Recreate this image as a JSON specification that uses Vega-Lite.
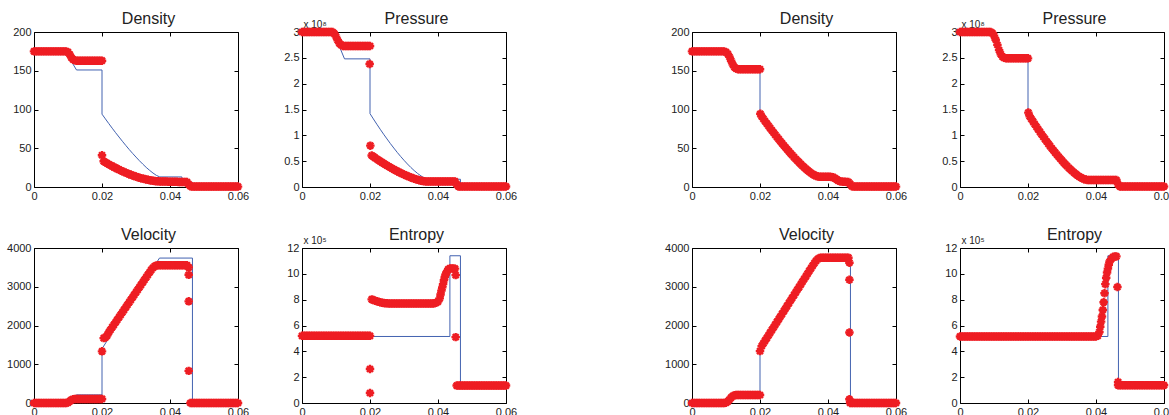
{
"$schema": "https://vega.github.io/schema/vega-lite/v6.json",
"background": "white",
"padding": {"left": 6, "top": 10, "right": 0, "bottom": 0},
"datasets": {
"exD": [{"x":0,"y":175},{"x":0.0095,"y":175},{"x":0.011,"y":162},{"x":0.0125,"y":151},{"x":0.02,"y":151},{"x":0.02,"y":94},{"x":0.021,"y":87.9},{"x":0.022,"y":81.8},{"x":0.023,"y":75.9},{"x":0.024,"y":70.1},{"x":0.025,"y":64.5},{"x":0.026,"y":59},{"x":0.027,"y":53.6},{"x":0.028,"y":48.4},{"x":0.029,"y":43.4},{"x":0.03,"y":38.6},{"x":0.031,"y":33.9},{"x":0.032,"y":29.5},{"x":0.033,"y":25.3},{"x":0.034,"y":21.5},{"x":0.035,"y":18},{"x":0.036,"y":15},{"x":0.037,"y":13},{"x":0.0435,"y":13},{"x":0.0435,"y":6},{"x":0.0466,"y":6},{"x":0.0466,"y":0.5},{"x":0.06,"y":0.5}],
"exP": [{"x":0,"y":3},{"x":0.0095,"y":3},{"x":0.011,"y":2.72},{"x":0.0125,"y":2.48},{"x":0.02,"y":2.48},{"x":0.02,"y":1.42},{"x":0.021,"y":1.317},{"x":0.022,"y":1.216},{"x":0.023,"y":1.118},{"x":0.024,"y":1.022},{"x":0.025,"y":0.93},{"x":0.026,"y":0.84},{"x":0.027,"y":0.754},{"x":0.028,"y":0.671},{"x":0.029,"y":0.592},{"x":0.03,"y":0.517},{"x":0.031,"y":0.446},{"x":0.032,"y":0.379},{"x":0.033,"y":0.318},{"x":0.034,"y":0.262},{"x":0.035,"y":0.214},{"x":0.036,"y":0.174},{"x":0.037,"y":0.15},{"x":0.0466,"y":0.15},{"x":0.0466,"y":0.01},{"x":0.06,"y":0.01}],
"exV": [{"x":0,"y":0},{"x":0.0095,"y":0},{"x":0.011,"y":110},{"x":0.0125,"y":210},{"x":0.02,"y":210},{"x":0.02,"y":1400},{"x":0.0369,"y":3740},{"x":0.0466,"y":3740},{"x":0.0466,"y":0},{"x":0.06,"y":0}],
"exS": [{"x":0,"y":5.15},{"x":0.0435,"y":5.15},{"x":0.0435,"y":11.4},{"x":0.0466,"y":11.4},{"x":0.0466,"y":1.4},{"x":0.06,"y":1.4}],
"aD": [{"x":0,"y":175},{"x":0.0005,"y":175},{"x":0.001,"y":175},{"x":0.0015,"y":175},{"x":0.002,"y":175},{"x":0.0025,"y":175},{"x":0.003,"y":175},{"x":0.0035,"y":175},{"x":0.004,"y":175},{"x":0.0045,"y":175},{"x":0.005,"y":175},{"x":0.0055,"y":175},{"x":0.006,"y":175},{"x":0.0065,"y":175},{"x":0.007,"y":175},{"x":0.0075,"y":175},{"x":0.008,"y":175},{"x":0.0085,"y":175},{"x":0.009,"y":175},{"x":0.0095,"y":175},{"x":0.01,"y":174},{"x":0.0105,"y":171},{"x":0.011,"y":167},{"x":0.0115,"y":164.5},{"x":0.012,"y":163.5},{"x":0.0125,"y":163},{"x":0.013,"y":163},{"x":0.0135,"y":163},{"x":0.014,"y":163},{"x":0.0145,"y":163},{"x":0.015,"y":163},{"x":0.0155,"y":163},{"x":0.016,"y":163},{"x":0.0165,"y":163},{"x":0.017,"y":163},{"x":0.0175,"y":163},{"x":0.018,"y":163},{"x":0.0185,"y":163},{"x":0.019,"y":163},{"x":0.0195,"y":163},{"x":0.02,"y":163},{"x":0.02,"y":41},{"x":0.0205,"y":33.2},{"x":0.021,"y":31.9},{"x":0.0215,"y":30.6},{"x":0.022,"y":29.3},{"x":0.0225,"y":28.1},{"x":0.023,"y":26.9},{"x":0.0235,"y":25.7},{"x":0.024,"y":24.6},{"x":0.0245,"y":23.4},{"x":0.025,"y":22.4},{"x":0.0255,"y":21.3},{"x":0.026,"y":20.3},{"x":0.0265,"y":19.3},{"x":0.027,"y":18.4},{"x":0.0275,"y":17.5},{"x":0.028,"y":16.6},{"x":0.0285,"y":15.7},{"x":0.029,"y":14.9},{"x":0.0295,"y":14.1},{"x":0.03,"y":13.4},{"x":0.0305,"y":12.7},{"x":0.031,"y":12},{"x":0.0315,"y":11.4},{"x":0.032,"y":10.8},{"x":0.0325,"y":10.3},{"x":0.033,"y":9.8},{"x":0.0335,"y":9.3},{"x":0.034,"y":8.8},{"x":0.0345,"y":8.4},{"x":0.035,"y":8.1},{"x":0.0355,"y":7.8},{"x":0.036,"y":7.5},{"x":0.0365,"y":7.3},{"x":0.037,"y":7.2},{"x":0.0375,"y":7.2},{"x":0.038,"y":7.1},{"x":0.0385,"y":7},{"x":0.039,"y":7},{"x":0.0395,"y":6.9},{"x":0.04,"y":6.9},{"x":0.0405,"y":6.8},{"x":0.041,"y":6.8},{"x":0.0415,"y":6.7},{"x":0.042,"y":6.7},{"x":0.0425,"y":6.6},{"x":0.043,"y":6.6},{"x":0.0435,"y":6.5},{"x":0.044,"y":6.5},{"x":0.0445,"y":6.4},{"x":0.045,"y":6.4},{"x":0.0455,"y":3.5},{"x":0.046,"y":1},{"x":0.0465,"y":0.5},{"x":0.047,"y":0.5},{"x":0.0475,"y":0.5},{"x":0.048,"y":0.5},{"x":0.0485,"y":0.5},{"x":0.049,"y":0.5},{"x":0.0495,"y":0.5},{"x":0.05,"y":0.5},{"x":0.0505,"y":0.5},{"x":0.051,"y":0.5},{"x":0.0515,"y":0.5},{"x":0.052,"y":0.5},{"x":0.0525,"y":0.5},{"x":0.053,"y":0.5},{"x":0.0535,"y":0.5},{"x":0.054,"y":0.5},{"x":0.0545,"y":0.5},{"x":0.055,"y":0.5},{"x":0.0555,"y":0.5},{"x":0.056,"y":0.5},{"x":0.0565,"y":0.5},{"x":0.057,"y":0.5},{"x":0.0575,"y":0.5},{"x":0.058,"y":0.5},{"x":0.0585,"y":0.5},{"x":0.059,"y":0.5},{"x":0.0595,"y":0.5},{"x":0.06,"y":0.5}],
"aP": [{"x":0,"y":3},{"x":0.0005,"y":3},{"x":0.001,"y":3},{"x":0.0015,"y":3},{"x":0.002,"y":3},{"x":0.0025,"y":3},{"x":0.003,"y":3},{"x":0.0035,"y":3},{"x":0.004,"y":3},{"x":0.0045,"y":3},{"x":0.005,"y":3},{"x":0.0055,"y":3},{"x":0.006,"y":3},{"x":0.0065,"y":3},{"x":0.007,"y":3},{"x":0.0075,"y":3},{"x":0.008,"y":3},{"x":0.0085,"y":3},{"x":0.009,"y":3},{"x":0.0095,"y":2.97},{"x":0.01,"y":2.91},{"x":0.0105,"y":2.84},{"x":0.011,"y":2.78},{"x":0.0115,"y":2.75},{"x":0.012,"y":2.73},{"x":0.0125,"y":2.73},{"x":0.013,"y":2.73},{"x":0.0135,"y":2.73},{"x":0.014,"y":2.73},{"x":0.0145,"y":2.73},{"x":0.015,"y":2.73},{"x":0.0155,"y":2.73},{"x":0.016,"y":2.73},{"x":0.0165,"y":2.73},{"x":0.017,"y":2.73},{"x":0.0175,"y":2.73},{"x":0.018,"y":2.73},{"x":0.0185,"y":2.73},{"x":0.019,"y":2.73},{"x":0.0195,"y":2.73},{"x":0.02,"y":2.73},{"x":0.0199,"y":2.38},{"x":0.0201,"y":0.8},{"x":0.0205,"y":0.61},{"x":0.021,"y":0.587},{"x":0.0215,"y":0.564},{"x":0.022,"y":0.542},{"x":0.0225,"y":0.52},{"x":0.023,"y":0.499},{"x":0.0235,"y":0.477},{"x":0.024,"y":0.457},{"x":0.0245,"y":0.436},{"x":0.025,"y":0.416},{"x":0.0255,"y":0.397},{"x":0.026,"y":0.378},{"x":0.0265,"y":0.359},{"x":0.027,"y":0.341},{"x":0.0275,"y":0.323},{"x":0.028,"y":0.305},{"x":0.0285,"y":0.289},{"x":0.029,"y":0.272},{"x":0.0295,"y":0.256},{"x":0.03,"y":0.241},{"x":0.0305,"y":0.226},{"x":0.031,"y":0.212},{"x":0.0315,"y":0.198},{"x":0.032,"y":0.185},{"x":0.0325,"y":0.173},{"x":0.033,"y":0.161},{"x":0.0335,"y":0.15},{"x":0.034,"y":0.14},{"x":0.0345,"y":0.13},{"x":0.035,"y":0.122},{"x":0.0355,"y":0.115},{"x":0.036,"y":0.111},{"x":0.0365,"y":0.108},{"x":0.037,"y":0.108},{"x":0.0375,"y":0.108},{"x":0.038,"y":0.108},{"x":0.0385,"y":0.108},{"x":0.039,"y":0.108},{"x":0.0395,"y":0.108},{"x":0.04,"y":0.108},{"x":0.0405,"y":0.108},{"x":0.041,"y":0.108},{"x":0.0415,"y":0.108},{"x":0.042,"y":0.108},{"x":0.0425,"y":0.108},{"x":0.043,"y":0.108},{"x":0.0435,"y":0.108},{"x":0.044,"y":0.108},{"x":0.0445,"y":0.108},{"x":0.045,"y":0.108},{"x":0.0455,"y":0.05},{"x":0.046,"y":0.01},{"x":0.0465,"y":0.01},{"x":0.047,"y":0.01},{"x":0.0475,"y":0.01},{"x":0.048,"y":0.01},{"x":0.0485,"y":0.01},{"x":0.049,"y":0.01},{"x":0.0495,"y":0.01},{"x":0.05,"y":0.01},{"x":0.0505,"y":0.01},{"x":0.051,"y":0.01},{"x":0.0515,"y":0.01},{"x":0.052,"y":0.01},{"x":0.0525,"y":0.01},{"x":0.053,"y":0.01},{"x":0.0535,"y":0.01},{"x":0.054,"y":0.01},{"x":0.0545,"y":0.01},{"x":0.055,"y":0.01},{"x":0.0555,"y":0.01},{"x":0.056,"y":0.01},{"x":0.0565,"y":0.01},{"x":0.057,"y":0.01},{"x":0.0575,"y":0.01},{"x":0.058,"y":0.01},{"x":0.0585,"y":0.01},{"x":0.059,"y":0.01},{"x":0.0595,"y":0.01},{"x":0.06,"y":0.01}],
"aV": [{"x":0,"y":0},{"x":0.0005,"y":0},{"x":0.001,"y":0},{"x":0.0015,"y":0},{"x":0.002,"y":0},{"x":0.0025,"y":0},{"x":0.003,"y":0},{"x":0.0035,"y":0},{"x":0.004,"y":0},{"x":0.0045,"y":0},{"x":0.005,"y":0},{"x":0.0055,"y":0},{"x":0.006,"y":0},{"x":0.0065,"y":0},{"x":0.007,"y":0},{"x":0.0075,"y":0},{"x":0.008,"y":0},{"x":0.0085,"y":0},{"x":0.009,"y":0},{"x":0.0095,"y":0},{"x":0.01,"y":10},{"x":0.0105,"y":45},{"x":0.011,"y":80},{"x":0.0115,"y":98},{"x":0.012,"y":104},{"x":0.0125,"y":105},{"x":0.013,"y":105},{"x":0.0135,"y":105},{"x":0.014,"y":105},{"x":0.0145,"y":105},{"x":0.015,"y":105},{"x":0.0155,"y":105},{"x":0.016,"y":105},{"x":0.0165,"y":105},{"x":0.017,"y":105},{"x":0.0175,"y":105},{"x":0.018,"y":105},{"x":0.0185,"y":105},{"x":0.019,"y":105},{"x":0.0195,"y":105},{"x":0.02,"y":105},{"x":0.02,"y":1333},{"x":0.0205,"y":1675},{"x":0.021,"y":1690},{"x":0.0215,"y":1740},{"x":0.022,"y":1825},{"x":0.0225,"y":1890},{"x":0.023,"y":1955},{"x":0.0235,"y":2019},{"x":0.024,"y":2083},{"x":0.0245,"y":2148},{"x":0.025,"y":2212},{"x":0.0255,"y":2277},{"x":0.026,"y":2341},{"x":0.0265,"y":2406},{"x":0.027,"y":2470},{"x":0.0275,"y":2535},{"x":0.028,"y":2599},{"x":0.0285,"y":2664},{"x":0.029,"y":2728},{"x":0.0295,"y":2793},{"x":0.03,"y":2857},{"x":0.0305,"y":2922},{"x":0.031,"y":2986},{"x":0.0315,"y":3051},{"x":0.032,"y":3115},{"x":0.0325,"y":3180},{"x":0.033,"y":3244},{"x":0.0335,"y":3309},{"x":0.034,"y":3373},{"x":0.0345,"y":3435},{"x":0.035,"y":3490},{"x":0.0355,"y":3530},{"x":0.036,"y":3550},{"x":0.0365,"y":3555},{"x":0.037,"y":3555},{"x":0.0375,"y":3555},{"x":0.038,"y":3555},{"x":0.0385,"y":3555},{"x":0.039,"y":3555},{"x":0.0395,"y":3555},{"x":0.04,"y":3555},{"x":0.0405,"y":3555},{"x":0.041,"y":3555},{"x":0.0415,"y":3555},{"x":0.042,"y":3555},{"x":0.0425,"y":3555},{"x":0.043,"y":3555},{"x":0.0435,"y":3555},{"x":0.044,"y":3555},{"x":0.0445,"y":3555},{"x":0.045,"y":3555},{"x":0.0455,"y":3500},{"x":0.0455,"y":3308},{"x":0.0455,"y":2623},{"x":0.0455,"y":829},{"x":0.046,"y":0},{"x":0.0465,"y":0},{"x":0.047,"y":0},{"x":0.0475,"y":0},{"x":0.048,"y":0},{"x":0.0485,"y":0},{"x":0.049,"y":0},{"x":0.0495,"y":0},{"x":0.05,"y":0},{"x":0.0505,"y":0},{"x":0.051,"y":0},{"x":0.0515,"y":0},{"x":0.052,"y":0},{"x":0.0525,"y":0},{"x":0.053,"y":0},{"x":0.0535,"y":0},{"x":0.054,"y":0},{"x":0.0545,"y":0},{"x":0.055,"y":0},{"x":0.0555,"y":0},{"x":0.056,"y":0},{"x":0.0565,"y":0},{"x":0.057,"y":0},{"x":0.0575,"y":0},{"x":0.058,"y":0},{"x":0.0585,"y":0},{"x":0.059,"y":0},{"x":0.0595,"y":0},{"x":0.06,"y":0}],
"aS": [{"x":0,"y":5.2},{"x":0.0005,"y":5.2},{"x":0.001,"y":5.2},{"x":0.0015,"y":5.2},{"x":0.002,"y":5.2},{"x":0.0025,"y":5.2},{"x":0.003,"y":5.2},{"x":0.0035,"y":5.2},{"x":0.004,"y":5.2},{"x":0.0045,"y":5.2},{"x":0.005,"y":5.2},{"x":0.0055,"y":5.2},{"x":0.006,"y":5.2},{"x":0.0065,"y":5.2},{"x":0.007,"y":5.2},{"x":0.0075,"y":5.2},{"x":0.008,"y":5.2},{"x":0.0085,"y":5.2},{"x":0.009,"y":5.2},{"x":0.0095,"y":5.2},{"x":0.01,"y":5.2},{"x":0.0105,"y":5.2},{"x":0.011,"y":5.2},{"x":0.0115,"y":5.2},{"x":0.012,"y":5.2},{"x":0.0125,"y":5.2},{"x":0.013,"y":5.2},{"x":0.0135,"y":5.2},{"x":0.014,"y":5.2},{"x":0.0145,"y":5.2},{"x":0.015,"y":5.2},{"x":0.0155,"y":5.2},{"x":0.016,"y":5.2},{"x":0.0165,"y":5.2},{"x":0.017,"y":5.2},{"x":0.0175,"y":5.2},{"x":0.018,"y":5.2},{"x":0.0185,"y":5.2},{"x":0.019,"y":5.2},{"x":0.0195,"y":5.2},{"x":0.02,"y":5.2},{"x":0.02,"y":2.63},{"x":0.02,"y":0.77},{"x":0.0205,"y":8.02},{"x":0.021,"y":7.97},{"x":0.0215,"y":7.92},{"x":0.022,"y":7.88},{"x":0.0225,"y":7.84},{"x":0.023,"y":7.8},{"x":0.0235,"y":7.77},{"x":0.024,"y":7.75},{"x":0.0245,"y":7.73},{"x":0.025,"y":7.72},{"x":0.0255,"y":7.7},{"x":0.026,"y":7.7},{"x":0.0265,"y":7.7},{"x":0.027,"y":7.7},{"x":0.0275,"y":7.7},{"x":0.028,"y":7.7},{"x":0.0285,"y":7.7},{"x":0.029,"y":7.7},{"x":0.0295,"y":7.7},{"x":0.03,"y":7.7},{"x":0.0305,"y":7.7},{"x":0.031,"y":7.7},{"x":0.0315,"y":7.7},{"x":0.032,"y":7.7},{"x":0.0325,"y":7.7},{"x":0.033,"y":7.7},{"x":0.0335,"y":7.7},{"x":0.034,"y":7.7},{"x":0.0345,"y":7.7},{"x":0.035,"y":7.7},{"x":0.0355,"y":7.7},{"x":0.036,"y":7.7},{"x":0.0365,"y":7.7},{"x":0.037,"y":7.7},{"x":0.0375,"y":7.7},{"x":0.038,"y":7.7},{"x":0.0385,"y":7.71},{"x":0.039,"y":7.73},{"x":0.0395,"y":7.77},{"x":0.04,"y":7.85},{"x":0.0405,"y":8.1},{"x":0.04075,"y":8.4},{"x":0.041,"y":8.7},{"x":0.04125,"y":8.95},{"x":0.0415,"y":9.2},{"x":0.04175,"y":9.5},{"x":0.042,"y":9.75},{"x":0.04225,"y":9.95},{"x":0.0425,"y":10.1},{"x":0.043,"y":10.35},{"x":0.0435,"y":10.42},{"x":0.044,"y":10.42},{"x":0.0445,"y":10.42},{"x":0.045,"y":10.4},{"x":0.0452,"y":9.9},{"x":0.0452,"y":5.1},{"x":0.0455,"y":1.35},{"x":0.046,"y":1.35},{"x":0.0465,"y":1.35},{"x":0.047,"y":1.35},{"x":0.0475,"y":1.35},{"x":0.048,"y":1.35},{"x":0.0485,"y":1.35},{"x":0.049,"y":1.35},{"x":0.0495,"y":1.35},{"x":0.05,"y":1.35},{"x":0.0505,"y":1.35},{"x":0.051,"y":1.35},{"x":0.0515,"y":1.35},{"x":0.052,"y":1.35},{"x":0.0525,"y":1.35},{"x":0.053,"y":1.35},{"x":0.0535,"y":1.35},{"x":0.054,"y":1.35},{"x":0.0545,"y":1.35},{"x":0.055,"y":1.35},{"x":0.0555,"y":1.35},{"x":0.056,"y":1.35},{"x":0.0565,"y":1.35},{"x":0.057,"y":1.35},{"x":0.0575,"y":1.35},{"x":0.058,"y":1.35},{"x":0.0585,"y":1.35},{"x":0.059,"y":1.35},{"x":0.0595,"y":1.35},{"x":0.06,"y":1.35}],
"bD": [{"x":0,"y":175},{"x":0.0005,"y":175},{"x":0.001,"y":175},{"x":0.0015,"y":175},{"x":0.002,"y":175},{"x":0.0025,"y":175},{"x":0.003,"y":175},{"x":0.0035,"y":175},{"x":0.004,"y":175},{"x":0.0045,"y":175},{"x":0.005,"y":175},{"x":0.0055,"y":175},{"x":0.006,"y":175},{"x":0.0065,"y":175},{"x":0.007,"y":175},{"x":0.0075,"y":175},{"x":0.008,"y":175},{"x":0.0085,"y":175},{"x":0.009,"y":175},{"x":0.0095,"y":175},{"x":0.01,"y":174},{"x":0.0105,"y":172},{"x":0.011,"y":168},{"x":0.0115,"y":163},{"x":0.012,"y":158},{"x":0.0125,"y":154.5},{"x":0.013,"y":152.8},{"x":0.0135,"y":152},{"x":0.014,"y":152},{"x":0.0145,"y":152},{"x":0.015,"y":152},{"x":0.0155,"y":152},{"x":0.016,"y":152},{"x":0.0165,"y":152},{"x":0.017,"y":152},{"x":0.0175,"y":152},{"x":0.018,"y":152},{"x":0.0185,"y":152},{"x":0.019,"y":152},{"x":0.0195,"y":152},{"x":0.02,"y":152},{"x":0.0201,"y":94.5},{"x":0.0205,"y":90.9},{"x":0.021,"y":87.9},{"x":0.0215,"y":84.8},{"x":0.022,"y":81.8},{"x":0.0225,"y":78.9},{"x":0.023,"y":75.9},{"x":0.0235,"y":73},{"x":0.024,"y":70.1},{"x":0.0245,"y":67.3},{"x":0.025,"y":64.5},{"x":0.0255,"y":61.7},{"x":0.026,"y":59},{"x":0.0265,"y":56.3},{"x":0.027,"y":53.6},{"x":0.0275,"y":51},{"x":0.028,"y":48.4},{"x":0.0285,"y":45.9},{"x":0.029,"y":43.4},{"x":0.0295,"y":41},{"x":0.03,"y":38.6},{"x":0.0305,"y":36.2},{"x":0.031,"y":33.9},{"x":0.0315,"y":31.7},{"x":0.032,"y":29.5},{"x":0.0325,"y":27.4},{"x":0.033,"y":25.3},{"x":0.0335,"y":23.4},{"x":0.034,"y":21.5},{"x":0.0345,"y":19.7},{"x":0.035,"y":18},{"x":0.0355,"y":16.6},{"x":0.036,"y":15.3},{"x":0.0365,"y":14.3},{"x":0.037,"y":13.7},{"x":0.0375,"y":13.3},{"x":0.038,"y":13.1},{"x":0.0385,"y":13.1},{"x":0.039,"y":13.1},{"x":0.0395,"y":13.1},{"x":0.04,"y":13.1},{"x":0.0405,"y":13.1},{"x":0.041,"y":13},{"x":0.0415,"y":12.6},{"x":0.042,"y":11.5},{"x":0.0425,"y":9.8},{"x":0.043,"y":8.3},{"x":0.0435,"y":7.4},{"x":0.044,"y":7},{"x":0.0445,"y":6.8},{"x":0.045,"y":6.7},{"x":0.0455,"y":6.6},{"x":0.046,"y":6.5},{"x":0.0465,"y":4},{"x":0.047,"y":1},{"x":0.0475,"y":0.5},{"x":0.048,"y":0.5},{"x":0.0485,"y":0.5},{"x":0.049,"y":0.5},{"x":0.0495,"y":0.5},{"x":0.05,"y":0.5},{"x":0.0505,"y":0.5},{"x":0.051,"y":0.5},{"x":0.0515,"y":0.5},{"x":0.052,"y":0.5},{"x":0.0525,"y":0.5},{"x":0.053,"y":0.5},{"x":0.0535,"y":0.5},{"x":0.054,"y":0.5},{"x":0.0545,"y":0.5},{"x":0.055,"y":0.5},{"x":0.0555,"y":0.5},{"x":0.056,"y":0.5},{"x":0.0565,"y":0.5},{"x":0.057,"y":0.5},{"x":0.0575,"y":0.5},{"x":0.058,"y":0.5},{"x":0.0585,"y":0.5},{"x":0.059,"y":0.5},{"x":0.0595,"y":0.5},{"x":0.06,"y":0.5}],
"bP": [{"x":0,"y":3},{"x":0.0005,"y":3},{"x":0.001,"y":3},{"x":0.0015,"y":3},{"x":0.002,"y":3},{"x":0.0025,"y":3},{"x":0.003,"y":3},{"x":0.0035,"y":3},{"x":0.004,"y":3},{"x":0.0045,"y":3},{"x":0.005,"y":3},{"x":0.0055,"y":3},{"x":0.006,"y":3},{"x":0.0065,"y":3},{"x":0.007,"y":3},{"x":0.0075,"y":3},{"x":0.008,"y":3},{"x":0.0085,"y":3},{"x":0.009,"y":3},{"x":0.0095,"y":2.98},{"x":0.01,"y":2.93},{"x":0.0105,"y":2.85},{"x":0.011,"y":2.75},{"x":0.0115,"y":2.65},{"x":0.012,"y":2.57},{"x":0.0125,"y":2.52},{"x":0.013,"y":2.5},{"x":0.0135,"y":2.49},{"x":0.014,"y":2.49},{"x":0.0145,"y":2.49},{"x":0.015,"y":2.49},{"x":0.0155,"y":2.49},{"x":0.016,"y":2.49},{"x":0.0165,"y":2.49},{"x":0.017,"y":2.49},{"x":0.0175,"y":2.49},{"x":0.018,"y":2.49},{"x":0.0185,"y":2.49},{"x":0.019,"y":2.49},{"x":0.0195,"y":2.49},{"x":0.02,"y":2.49},{"x":0.0201,"y":1.44},{"x":0.0205,"y":1.368},{"x":0.021,"y":1.316},{"x":0.0215,"y":1.265},{"x":0.022,"y":1.214},{"x":0.0225,"y":1.164},{"x":0.023,"y":1.115},{"x":0.0235,"y":1.067},{"x":0.024,"y":1.019},{"x":0.0245,"y":0.972},{"x":0.025,"y":0.926},{"x":0.0255,"y":0.88},{"x":0.026,"y":0.836},{"x":0.0265,"y":0.792},{"x":0.027,"y":0.749},{"x":0.0275,"y":0.707},{"x":0.028,"y":0.665},{"x":0.0285,"y":0.625},{"x":0.029,"y":0.586},{"x":0.0295,"y":0.547},{"x":0.03,"y":0.51},{"x":0.0305,"y":0.473},{"x":0.031,"y":0.438},{"x":0.0315,"y":0.404},{"x":0.032,"y":0.371},{"x":0.0325,"y":0.339},{"x":0.033,"y":0.309},{"x":0.0335,"y":0.28},{"x":0.034,"y":0.253},{"x":0.0345,"y":0.227},{"x":0.035,"y":0.204},{"x":0.0355,"y":0.185},{"x":0.036,"y":0.168},{"x":0.0365,"y":0.152},{"x":0.037,"y":0.143},{"x":0.0375,"y":0.135},{"x":0.038,"y":0.135},{"x":0.0385,"y":0.135},{"x":0.039,"y":0.135},{"x":0.0395,"y":0.135},{"x":0.04,"y":0.135},{"x":0.0405,"y":0.135},{"x":0.041,"y":0.135},{"x":0.0415,"y":0.135},{"x":0.042,"y":0.135},{"x":0.0425,"y":0.135},{"x":0.043,"y":0.135},{"x":0.0435,"y":0.135},{"x":0.044,"y":0.135},{"x":0.0445,"y":0.135},{"x":0.045,"y":0.135},{"x":0.0455,"y":0.135},{"x":0.046,"y":0.135},{"x":0.0465,"y":0.05},{"x":0.047,"y":0.01},{"x":0.0475,"y":0.01},{"x":0.048,"y":0.01},{"x":0.0485,"y":0.01},{"x":0.049,"y":0.01},{"x":0.0495,"y":0.01},{"x":0.05,"y":0.01},{"x":0.0505,"y":0.01},{"x":0.051,"y":0.01},{"x":0.0515,"y":0.01},{"x":0.052,"y":0.01},{"x":0.0525,"y":0.01},{"x":0.053,"y":0.01},{"x":0.0535,"y":0.01},{"x":0.054,"y":0.01},{"x":0.0545,"y":0.01},{"x":0.055,"y":0.01},{"x":0.0555,"y":0.01},{"x":0.056,"y":0.01},{"x":0.0565,"y":0.01},{"x":0.057,"y":0.01},{"x":0.0575,"y":0.01},{"x":0.058,"y":0.01},{"x":0.0585,"y":0.01},{"x":0.059,"y":0.01},{"x":0.0595,"y":0.01},{"x":0.06,"y":0.01}],
"bV": [{"x":0,"y":0},{"x":0.0005,"y":0},{"x":0.001,"y":0},{"x":0.0015,"y":0},{"x":0.002,"y":0},{"x":0.0025,"y":0},{"x":0.003,"y":0},{"x":0.0035,"y":0},{"x":0.004,"y":0},{"x":0.0045,"y":0},{"x":0.005,"y":0},{"x":0.0055,"y":0},{"x":0.006,"y":0},{"x":0.0065,"y":0},{"x":0.007,"y":0},{"x":0.0075,"y":0},{"x":0.008,"y":0},{"x":0.0085,"y":0},{"x":0.009,"y":0},{"x":0.0095,"y":0},{"x":0.01,"y":8},{"x":0.0105,"y":35},{"x":0.011,"y":85},{"x":0.0115,"y":140},{"x":0.012,"y":180},{"x":0.0125,"y":198},{"x":0.013,"y":204},{"x":0.0135,"y":205},{"x":0.014,"y":205},{"x":0.0145,"y":205},{"x":0.015,"y":205},{"x":0.0155,"y":205},{"x":0.016,"y":205},{"x":0.0165,"y":205},{"x":0.017,"y":205},{"x":0.0175,"y":205},{"x":0.018,"y":205},{"x":0.0185,"y":205},{"x":0.019,"y":205},{"x":0.0195,"y":205},{"x":0.02,"y":205},{"x":0.02,"y":1340},{"x":0.0205,"y":1469},{"x":0.021,"y":1538},{"x":0.0215,"y":1608},{"x":0.022,"y":1677},{"x":0.0225,"y":1746},{"x":0.023,"y":1815},{"x":0.0235,"y":1885},{"x":0.024,"y":1954},{"x":0.0245,"y":2023},{"x":0.025,"y":2092},{"x":0.0255,"y":2162},{"x":0.026,"y":2231},{"x":0.0265,"y":2300},{"x":0.027,"y":2369},{"x":0.0275,"y":2438},{"x":0.028,"y":2508},{"x":0.0285,"y":2577},{"x":0.029,"y":2646},{"x":0.0295,"y":2715},{"x":0.03,"y":2785},{"x":0.0305,"y":2854},{"x":0.031,"y":2923},{"x":0.0315,"y":2992},{"x":0.032,"y":3062},{"x":0.0325,"y":3131},{"x":0.033,"y":3200},{"x":0.0335,"y":3269},{"x":0.034,"y":3338},{"x":0.0345,"y":3408},{"x":0.035,"y":3477},{"x":0.0355,"y":3546},{"x":0.036,"y":3610},{"x":0.0365,"y":3670},{"x":0.037,"y":3715},{"x":0.0375,"y":3740},{"x":0.038,"y":3750},{"x":0.0385,"y":3750},{"x":0.039,"y":3750},{"x":0.0395,"y":3750},{"x":0.04,"y":3750},{"x":0.0405,"y":3750},{"x":0.041,"y":3750},{"x":0.0415,"y":3750},{"x":0.042,"y":3750},{"x":0.0425,"y":3750},{"x":0.043,"y":3750},{"x":0.0435,"y":3750},{"x":0.044,"y":3750},{"x":0.0445,"y":3750},{"x":0.045,"y":3750},{"x":0.0455,"y":3750},{"x":0.046,"y":3750},{"x":0.0463,"y":3620},{"x":0.0463,"y":3180},{"x":0.0463,"y":1820},{"x":0.0463,"y":95},{"x":0.0465,"y":0},{"x":0.047,"y":0},{"x":0.0475,"y":0},{"x":0.048,"y":0},{"x":0.0485,"y":0},{"x":0.049,"y":0},{"x":0.0495,"y":0},{"x":0.05,"y":0},{"x":0.0505,"y":0},{"x":0.051,"y":0},{"x":0.0515,"y":0},{"x":0.052,"y":0},{"x":0.0525,"y":0},{"x":0.053,"y":0},{"x":0.0535,"y":0},{"x":0.054,"y":0},{"x":0.0545,"y":0},{"x":0.055,"y":0},{"x":0.0555,"y":0},{"x":0.056,"y":0},{"x":0.0565,"y":0},{"x":0.057,"y":0},{"x":0.0575,"y":0},{"x":0.058,"y":0},{"x":0.0585,"y":0},{"x":0.059,"y":0},{"x":0.0595,"y":0},{"x":0.06,"y":0}],
"bS": [{"x":0,"y":5.15},{"x":0.0005,"y":5.15},{"x":0.001,"y":5.15},{"x":0.0015,"y":5.15},{"x":0.002,"y":5.15},{"x":0.0025,"y":5.15},{"x":0.003,"y":5.15},{"x":0.0035,"y":5.15},{"x":0.004,"y":5.15},{"x":0.0045,"y":5.15},{"x":0.005,"y":5.15},{"x":0.0055,"y":5.15},{"x":0.006,"y":5.15},{"x":0.0065,"y":5.15},{"x":0.007,"y":5.15},{"x":0.0075,"y":5.15},{"x":0.008,"y":5.15},{"x":0.0085,"y":5.15},{"x":0.009,"y":5.15},{"x":0.0095,"y":5.15},{"x":0.01,"y":5.15},{"x":0.0105,"y":5.15},{"x":0.011,"y":5.15},{"x":0.0115,"y":5.15},{"x":0.012,"y":5.15},{"x":0.0125,"y":5.15},{"x":0.013,"y":5.15},{"x":0.0135,"y":5.15},{"x":0.014,"y":5.15},{"x":0.0145,"y":5.15},{"x":0.015,"y":5.15},{"x":0.0155,"y":5.15},{"x":0.016,"y":5.15},{"x":0.0165,"y":5.15},{"x":0.017,"y":5.15},{"x":0.0175,"y":5.15},{"x":0.018,"y":5.15},{"x":0.0185,"y":5.15},{"x":0.019,"y":5.15},{"x":0.0195,"y":5.15},{"x":0.02,"y":5.15},{"x":0.0205,"y":5.15},{"x":0.021,"y":5.15},{"x":0.0215,"y":5.15},{"x":0.022,"y":5.15},{"x":0.0225,"y":5.15},{"x":0.023,"y":5.15},{"x":0.0235,"y":5.15},{"x":0.024,"y":5.15},{"x":0.0245,"y":5.15},{"x":0.025,"y":5.15},{"x":0.0255,"y":5.15},{"x":0.026,"y":5.15},{"x":0.0265,"y":5.15},{"x":0.027,"y":5.15},{"x":0.0275,"y":5.15},{"x":0.028,"y":5.15},{"x":0.0285,"y":5.15},{"x":0.029,"y":5.15},{"x":0.0295,"y":5.15},{"x":0.03,"y":5.15},{"x":0.0305,"y":5.15},{"x":0.031,"y":5.15},{"x":0.0315,"y":5.15},{"x":0.032,"y":5.15},{"x":0.0325,"y":5.15},{"x":0.033,"y":5.15},{"x":0.0335,"y":5.15},{"x":0.034,"y":5.15},{"x":0.0345,"y":5.15},{"x":0.035,"y":5.15},{"x":0.0355,"y":5.15},{"x":0.036,"y":5.15},{"x":0.0365,"y":5.15},{"x":0.037,"y":5.15},{"x":0.0375,"y":5.15},{"x":0.038,"y":5.15},{"x":0.0385,"y":5.15},{"x":0.039,"y":5.15},{"x":0.0395,"y":5.15},{"x":0.04,"y":5.15},{"x":0.0405,"y":5.2},{"x":0.041,"y":5.5},{"x":0.04125,"y":5.9},{"x":0.0415,"y":6.3},{"x":0.04175,"y":6.7},{"x":0.042,"y":7.2},{"x":0.04225,"y":7.8},{"x":0.0425,"y":8.5},{"x":0.04275,"y":9.2},{"x":0.043,"y":9.7},{"x":0.04325,"y":10.1},{"x":0.0435,"y":10.4},{"x":0.04375,"y":10.7},{"x":0.044,"y":10.95},{"x":0.0445,"y":11.15},{"x":0.045,"y":11.3},{"x":0.0455,"y":11.35},{"x":0.046,"y":11.35},{"x":0.0463,"y":8.98},{"x":0.0465,"y":1.63},{"x":0.0465,"y":1.37},{"x":0.047,"y":1.37},{"x":0.0475,"y":1.37},{"x":0.048,"y":1.37},{"x":0.0485,"y":1.37},{"x":0.049,"y":1.37},{"x":0.0495,"y":1.37},{"x":0.05,"y":1.37},{"x":0.0505,"y":1.37},{"x":0.051,"y":1.37},{"x":0.0515,"y":1.37},{"x":0.052,"y":1.37},{"x":0.0525,"y":1.37},{"x":0.053,"y":1.37},{"x":0.0535,"y":1.37},{"x":0.054,"y":1.37},{"x":0.0545,"y":1.37},{"x":0.055,"y":1.37},{"x":0.0555,"y":1.37},{"x":0.056,"y":1.37},{"x":0.0565,"y":1.37},{"x":0.057,"y":1.37},{"x":0.0575,"y":1.37},{"x":0.058,"y":1.37},{"x":0.0585,"y":1.37},{"x":0.059,"y":1.37},{"x":0.0595,"y":1.37},{"x":0.06,"y":1.37}]
},
"columns": 5,
"spacing": {"row": 61, "column": 64},
"bounds": "flush",
"align": "each",
"concat": [
{"width":204,"height":155,"layer":[
 {"data":{"name":"exD"},"mark":{"type":"line","color":"#4262B0","strokeWidth":1},"encoding":{"x":{"field":"x","type":"quantitative","scale":{"domain":[0,0.06],"nice":false},"axis":{"values":[0,0.02,0.04,0.06],"labelExpr":"''+datum.value","title":null}},"y":{"field":"y","type":"quantitative","scale":{"domain":[0,200],"nice":false},"axis":{"values":[0,50,100,150,200],"labelExpr":"''+datum.value","title":null}}}},
 {"data":{"name":"aD"},"mark":{"type":"point","shape":"M-1,0L1,0M0,-1L0,1M-0.7,-0.7L0.7,0.7M-0.7,0.7L0.7,-0.7","size":72,"filled":false,"color":"#EE1D23","strokeWidth":2.4,"opacity":1},"encoding":{"x":{"field":"x","type":"quantitative","axis":{"orient":"top","values":[0,0.02,0.04,0.06],"labels":false,"title":"Density","titleX":114,"titleY":-8.5}},"y":{"field":"y","type":"quantitative","axis":{"orient":"right","values":[0,50,100,150,200],"labels":false,"title":null}}}}
],"resolve":{"axis":{"x":"independent","y":"independent"}}},
{"width":204,"height":155,"layer":[
 {"data":{"name":"exP"},"mark":{"type":"line","color":"#4262B0","strokeWidth":1},"encoding":{"x":{"field":"x","type":"quantitative","scale":{"domain":[0,0.06],"nice":false},"axis":{"values":[0,0.02,0.04,0.06],"labelExpr":"''+datum.value","title":null}},"y":{"field":"y","type":"quantitative","scale":{"domain":[0,3],"nice":false},"axis":{"values":[0,0.5,1,1.5,2,2.5,3],"labelExpr":"''+datum.value","title":"x 10⁸","titleAngle":0,"titleX":1,"titleY":-5,"titleAlign":"left","titleFontSize":10}}}},
 {"data":{"name":"aP"},"mark":{"type":"point","shape":"M-1,0L1,0M0,-1L0,1M-0.7,-0.7L0.7,0.7M-0.7,0.7L0.7,-0.7","size":72,"filled":false,"color":"#EE1D23","strokeWidth":2.4,"opacity":1},"encoding":{"x":{"field":"x","type":"quantitative","axis":{"orient":"top","values":[0,0.02,0.04,0.06],"labels":false,"title":"Pressure","titleX":114,"titleY":-8.5}},"y":{"field":"y","type":"quantitative","axis":{"orient":"right","values":[0,0.5,1,1.5,2,2.5,3],"labels":false,"title":null}}}}
],"resolve":{"axis":{"x":"independent","y":"independent"}}},
{"width":58,"height":155,"data":{"values":[]},"mark":"point","encoding":{},"view":{"stroke":null}},
{"width":204,"height":155,"layer":[
 {"data":{"name":"exD"},"mark":{"type":"line","color":"#4262B0","strokeWidth":1},"encoding":{"x":{"field":"x","type":"quantitative","scale":{"domain":[0,0.06],"nice":false},"axis":{"values":[0,0.02,0.04,0.06],"labelExpr":"''+datum.value","title":null}},"y":{"field":"y","type":"quantitative","scale":{"domain":[0,200],"nice":false},"axis":{"values":[0,50,100,150,200],"labelExpr":"''+datum.value","title":null}}}},
 {"data":{"name":"bD"},"mark":{"type":"point","shape":"M-1,0L1,0M0,-1L0,1M-0.7,-0.7L0.7,0.7M-0.7,0.7L0.7,-0.7","size":72,"filled":false,"color":"#EE1D23","strokeWidth":2.4,"opacity":1},"encoding":{"x":{"field":"x","type":"quantitative","axis":{"orient":"top","values":[0,0.02,0.04,0.06],"labels":false,"title":"Density","titleX":114,"titleY":-8.5}},"y":{"field":"y","type":"quantitative","axis":{"orient":"right","values":[0,50,100,150,200],"labels":false,"title":null}}}}
],"resolve":{"axis":{"x":"independent","y":"independent"}}},
{"width":204,"height":155,"layer":[
 {"data":{"name":"exP"},"mark":{"type":"line","color":"#4262B0","strokeWidth":1},"encoding":{"x":{"field":"x","type":"quantitative","scale":{"domain":[0,0.06],"nice":false},"axis":{"values":[0,0.02,0.04,0.06],"labelExpr":"''+datum.value","title":null}},"y":{"field":"y","type":"quantitative","scale":{"domain":[0,3],"nice":false},"axis":{"values":[0,0.5,1,1.5,2,2.5,3],"labelExpr":"''+datum.value","title":"x 10⁸","titleAngle":0,"titleX":1,"titleY":-5,"titleAlign":"left","titleFontSize":10}}}},
 {"data":{"name":"bP"},"mark":{"type":"point","shape":"M-1,0L1,0M0,-1L0,1M-0.7,-0.7L0.7,0.7M-0.7,0.7L0.7,-0.7","size":72,"filled":false,"color":"#EE1D23","strokeWidth":2.4,"opacity":1},"encoding":{"x":{"field":"x","type":"quantitative","axis":{"orient":"top","values":[0,0.02,0.04,0.06],"labels":false,"title":"Pressure","titleX":114,"titleY":-8.5}},"y":{"field":"y","type":"quantitative","axis":{"orient":"right","values":[0,0.5,1,1.5,2,2.5,3],"labels":false,"title":null}}}}
],"resolve":{"axis":{"x":"independent","y":"independent"}}},
{"width":204,"height":155,"layer":[
 {"data":{"name":"exV"},"mark":{"type":"line","color":"#4262B0","strokeWidth":1},"encoding":{"x":{"field":"x","type":"quantitative","scale":{"domain":[0,0.06],"nice":false},"axis":{"values":[0,0.02,0.04,0.06],"labelExpr":"''+datum.value","title":null}},"y":{"field":"y","type":"quantitative","scale":{"domain":[0,4000],"nice":false},"axis":{"values":[0,1000,2000,3000,4000],"labelExpr":"''+datum.value","title":null}}}},
 {"data":{"name":"aV"},"mark":{"type":"point","shape":"M-1,0L1,0M0,-1L0,1M-0.7,-0.7L0.7,0.7M-0.7,0.7L0.7,-0.7","size":72,"filled":false,"color":"#EE1D23","strokeWidth":2.4,"opacity":1},"encoding":{"x":{"field":"x","type":"quantitative","axis":{"orient":"top","values":[0,0.02,0.04,0.06],"labels":false,"title":"Velocity","titleX":114,"titleY":-8.5}},"y":{"field":"y","type":"quantitative","axis":{"orient":"right","values":[0,1000,2000,3000,4000],"labels":false,"title":null}}}}
],"resolve":{"axis":{"x":"independent","y":"independent"}}},
{"width":204,"height":155,"layer":[
 {"data":{"name":"exS"},"mark":{"type":"line","color":"#4262B0","strokeWidth":1},"encoding":{"x":{"field":"x","type":"quantitative","scale":{"domain":[0,0.06],"nice":false},"axis":{"values":[0,0.02,0.04,0.06],"labelExpr":"''+datum.value","title":null}},"y":{"field":"y","type":"quantitative","scale":{"domain":[0,12],"nice":false},"axis":{"values":[0,2,4,6,8,10,12],"labelExpr":"''+datum.value","title":"x 10⁵","titleAngle":0,"titleX":1,"titleY":-5,"titleAlign":"left","titleFontSize":10}}}},
 {"data":{"name":"aS"},"mark":{"type":"point","shape":"M-1,0L1,0M0,-1L0,1M-0.7,-0.7L0.7,0.7M-0.7,0.7L0.7,-0.7","size":72,"filled":false,"color":"#EE1D23","strokeWidth":2.4,"opacity":1},"encoding":{"x":{"field":"x","type":"quantitative","axis":{"orient":"top","values":[0,0.02,0.04,0.06],"labels":false,"title":"Entropy","titleX":114,"titleY":-8.5}},"y":{"field":"y","type":"quantitative","axis":{"orient":"right","values":[0,2,4,6,8,10,12],"labels":false,"title":null}}}}
],"resolve":{"axis":{"x":"independent","y":"independent"}}},
{"width":58,"height":155,"data":{"values":[]},"mark":"point","encoding":{},"view":{"stroke":null}},
{"width":204,"height":155,"layer":[
 {"data":{"name":"exV"},"mark":{"type":"line","color":"#4262B0","strokeWidth":1},"encoding":{"x":{"field":"x","type":"quantitative","scale":{"domain":[0,0.06],"nice":false},"axis":{"values":[0,0.02,0.04,0.06],"labelExpr":"''+datum.value","title":null}},"y":{"field":"y","type":"quantitative","scale":{"domain":[0,4000],"nice":false},"axis":{"values":[0,1000,2000,3000,4000],"labelExpr":"''+datum.value","title":null}}}},
 {"data":{"name":"bV"},"mark":{"type":"point","shape":"M-1,0L1,0M0,-1L0,1M-0.7,-0.7L0.7,0.7M-0.7,0.7L0.7,-0.7","size":72,"filled":false,"color":"#EE1D23","strokeWidth":2.4,"opacity":1},"encoding":{"x":{"field":"x","type":"quantitative","axis":{"orient":"top","values":[0,0.02,0.04,0.06],"labels":false,"title":"Velocity","titleX":114,"titleY":-8.5}},"y":{"field":"y","type":"quantitative","axis":{"orient":"right","values":[0,1000,2000,3000,4000],"labels":false,"title":null}}}}
],"resolve":{"axis":{"x":"independent","y":"independent"}}},
{"width":204,"height":155,"layer":[
 {"data":{"name":"exS"},"mark":{"type":"line","color":"#4262B0","strokeWidth":1},"encoding":{"x":{"field":"x","type":"quantitative","scale":{"domain":[0,0.06],"nice":false},"axis":{"values":[0,0.02,0.04,0.06],"labelExpr":"''+datum.value","title":null}},"y":{"field":"y","type":"quantitative","scale":{"domain":[0,12],"nice":false},"axis":{"values":[0,2,4,6,8,10,12],"labelExpr":"''+datum.value","title":"x 10⁵","titleAngle":0,"titleX":1,"titleY":-5,"titleAlign":"left","titleFontSize":10}}}},
 {"data":{"name":"bS"},"mark":{"type":"point","shape":"M-1,0L1,0M0,-1L0,1M-0.7,-0.7L0.7,0.7M-0.7,0.7L0.7,-0.7","size":72,"filled":false,"color":"#EE1D23","strokeWidth":2.4,"opacity":1},"encoding":{"x":{"field":"x","type":"quantitative","axis":{"orient":"top","values":[0,0.02,0.04,0.06],"labels":false,"title":"Entropy","titleX":114,"titleY":-8.5}},"y":{"field":"y","type":"quantitative","axis":{"orient":"right","values":[0,2,4,6,8,10,12],"labels":false,"title":null}}}}
],"resolve":{"axis":{"x":"independent","y":"independent"}}}
],
"config": {
 "view": {"stroke": "#000", "strokeWidth": 1},
 "axis": {"grid": false, "domain": false, "tickColor": "#000", "tickSize": -4, "tickWidth": 1, "labelFont": "Liberation Sans", "labelFontSize": 11, "labelColor": "#222", "labelPadding": 7, "labelFlush": false, "labelOverlap": false, "titleFont": "Liberation Sans", "titleFontSize": 16, "titleFontWeight": "normal", "titleColor": "#222", "titleAlign": "center", "titleBaseline": "alphabetic"}
}
}
